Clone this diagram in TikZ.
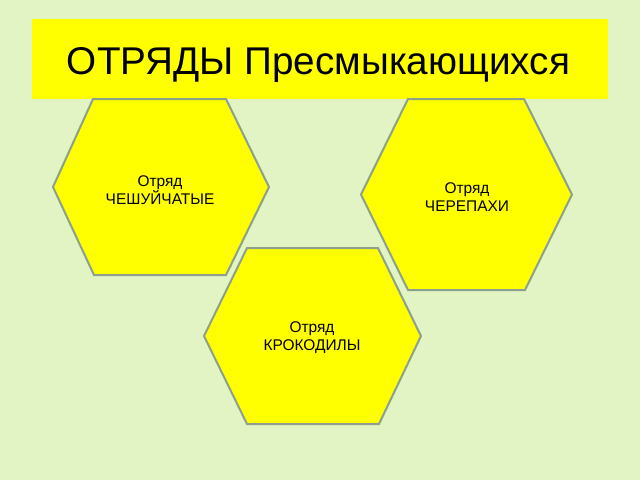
\documentclass[tikz,border=0pt]{standalone}
\usepackage{fontspec}
\setmainfont{Liberation Sans}
\definecolor{bgcol}{RGB}{226,244,196}
\definecolor{hexline}{RGB}{140,160,140}
\definecolor{ylw}{RGB}{255,255,0}
\tikzset{
  hexshape/.style={fill=ylw,draw=hexline,line width=1.5pt,line join=miter},
  hexlabel/.style={align=center,font=\fontsize{11.6pt}{13.5pt}\selectfont,text=black,inner sep=0pt},
  titlelabel/.style={font=\fontsize{29pt}{34pt}\selectfont,text=black,inner sep=0pt}
}
\begin{document}
\begin{tikzpicture}[x=0.75pt,y=-0.75pt]
\fill[bgcol] (0,0) rectangle (640,480);
\useasboundingbox (0,0) rectangle (640,480);
\fill[ylw] (32,19) rectangle (608,99);
\node[titlelabel,anchor=base] (title) at (318.5,74) {ОТРЯДЫ Пресмыкающихся};
\draw[hexshape] (93,99) -- (226,99) -- (269,187) -- (226,275) -- (94,275) -- (53,187) -- cycle;
\node[hexlabel] (h1) at (160,190) {Отряд\\ЧЕШУЙЧАТЫЕ};
\draw[hexshape] (408,99) -- (524,99) -- (572,194.5) -- (525,290) -- (408,290) -- (361,194.5) -- cycle;
\node[hexlabel] (h2) at (467,197) {Отряд\\ЧЕРЕПАХИ};
\draw[hexshape] (247,248) -- (378,248) -- (421,336) -- (379,424) -- (247,424) -- (204,336) -- cycle;
\node[hexlabel] (h3) at (312,338) {Отряд\\КРОКОДИЛЫ};
\end{tikzpicture}
\end{document}
